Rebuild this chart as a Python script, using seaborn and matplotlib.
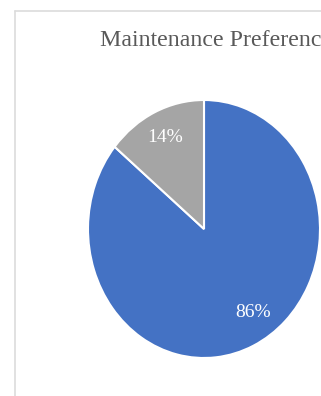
import matplotlib
matplotlib.use("Agg")
import matplotlib.pyplot as plt
from matplotlib.lines import Line2D
import seaborn as sns

# Survey split of maintenance preference
categories = ["Preferred", "Other"]
shares = [86, 14]
slice_colors = ["#4472C4", "#A5A5A5"]
title_text = "Maintenance Preference"

sns.set_theme(style="white")
plt.rcParams["font.family"] = ["Liberation Serif", "DejaVu Serif"]

W, H = 321, 396
fig = plt.figure(figsize=(W / 100, H / 100), dpi=100)
fig.patch.set_facecolor("white")

# Chart-area frame (top and left edges visible)
frame_color = "#DCDCDC"
fig.add_artist(Line2D([15 / W, 1.0], [1 - 11 / H, 1 - 11 / H],
                      transform=fig.transFigure, color=frame_color, lw=1.2))
fig.add_artist(Line2D([15 / W, 15 / W], [1 - 11 / H, 0.0],
                      transform=fig.transFigure, color=frame_color, lw=1.2))

# Title
fig.text(100 / W, 1 - 41 / H, title_text, ha="left", va="center",
         fontsize=17.2, color="#595959")

# Pie axes (slightly narrower than tall)
left, right = 88, 320
top, bottom = 100, 358
ax = fig.add_axes([left / W, 1 - bottom / H, (right - left) / W, (bottom - top) / H])
wedges, texts, autotexts = ax.pie(
    shares,
    colors=slice_colors,
    startangle=90,
    counterclock=False,
    autopct="%1.0f%%",
    pctdistance=0.78,
    wedgeprops=dict(edgecolor="white", linewidth=1.5),
    textprops=dict(color="white", fontsize=14),
)
ax.set_aspect("auto")
ax.set_xlim(-1, 1)
ax.set_ylim(-1, 1)
ax.axis("off")

# Nudge the large-slice label toward the lower right
autotexts[0].set_position((0.42, -0.65))

fig.savefig("out.png", dpi=100, facecolor="white")
